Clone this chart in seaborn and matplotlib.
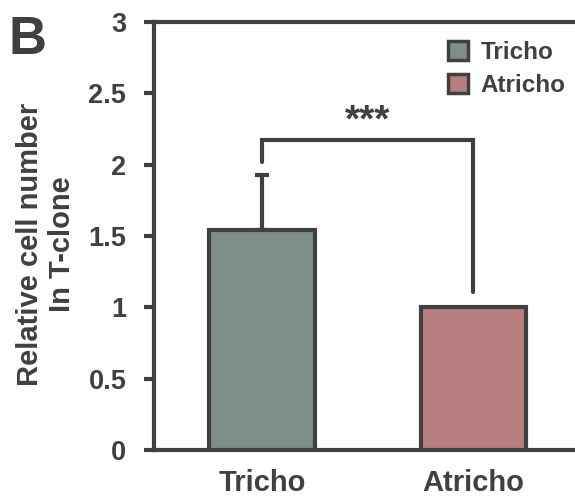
import matplotlib
matplotlib.use("Agg")
import matplotlib.pyplot as plt
import seaborn as sns
import pandas as pd

# values
groups = ["Tricho", "Atricho"]
rel_cell_number = [1.54, 1.0]
err_up = [0.39, 0.0]
bar_colors = ["#7D8F8C", "#C07676"]
bracket_y = 2.17
bracket_ends = [2.02, 1.11]
sig_label = "***"

dark = "#404040"

sns.set_style("white")
plt.rcParams["font.family"] = ["Liberation Sans", "DejaVu Sans"]
plt.rcParams["font.weight"] = "bold"

df = pd.DataFrame({"group": groups, "value": rel_cell_number})

fig = plt.figure(figsize=(5.75, 5.0), dpi=100)
ax = fig.add_axes([0.268, 0.1, 0.732, 0.856])

sns.barplot(data=df, x="group", y="value", hue="group", palette=bar_colors,
            order=groups, hue_order=groups, width=0.5, errorbar=None,
            edgecolor=dark, linewidth=3, dodge=False, legend=True, ax=ax, zorder=3)

# upper-only error bar on the Tricho bar
ax.errorbar([0], [rel_cell_number[0]], yerr=[[0], [err_up[0]]], fmt="none",
            ecolor=dark, elinewidth=3, capsize=5, capthick=3, zorder=2)

# significance bracket
ax.plot([0, 0, 1, 1], [bracket_ends[0], bracket_y, bracket_y, bracket_ends[1]],
        color=dark, lw=3, solid_joinstyle="miter", zorder=2)
ax.text(0.5, 2.30, sig_label, ha="center", va="center",
        fontsize=28, fontweight="bold", color=dark)

ax.set_xlim(-0.51, 1.48)
ax.set_ylim(0, 3)
ax.set_yticks([0, 0.5, 1, 1.5, 2, 2.5, 3])
ax.set_yticklabels(["0", "0.5", "1", "1.5", "2", "2.5", "3"])
ax.set_xlabel("")
ax.set_ylabel("Relative cell number\nIn T-clone", fontsize=21, fontweight="bold",
              color=dark, linespacing=1.2)
ax.yaxis.set_label_coords(-0.185, 0.48)

for side in ["left", "bottom", "top"]:
    ax.spines[side].set_visible(True)
    ax.spines[side].set_color(dark)
    ax.spines[side].set_linewidth(3)
ax.spines["right"].set_visible(False)

ax.tick_params(axis="y", direction="out", length=7, width=3, color=dark,
               labelsize=19.5, labelcolor=dark, pad=13, left=True)
ax.tick_params(axis="x", length=0, labelsize=21, labelcolor=dark, pad=14)
for lab in ax.get_xticklabels() + ax.get_yticklabels():
    lab.set_fontweight("bold")

leg = ax.legend(loc="upper right", frameon=False, fontsize=17.5, handlelength=0.85,
                handleheight=0.85, handletextpad=0.5, labelspacing=0.4,
                borderaxespad=0.2, bbox_to_anchor=(1.012, 0.99))
for t in leg.get_texts():
    t.set_color(dark)
    t.set_fontweight("bold")
for h in leg.legend_handles:
    h.set_edgecolor(dark)
    h.set_linewidth(2.5)

fig.text(0.015, 0.97, "B", fontsize=38, fontweight="bold", color=dark,
         ha="left", va="top")

fig.savefig("out.png", dpi=100)
